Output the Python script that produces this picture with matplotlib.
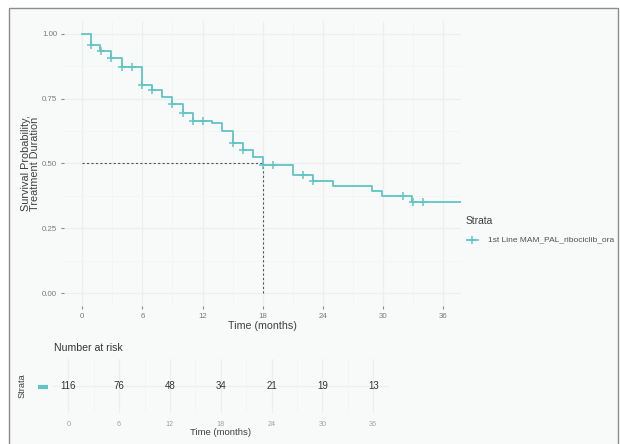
import numpy as np
import matplotlib
matplotlib.use("Agg")
import matplotlib.pyplot as plt
from matplotlib.lines import Line2D
from matplotlib.patches import Rectangle

plt.rcParams['font.family'] = ['Liberation Sans', 'DejaVu Sans']

# Kaplan-Meier estimate (time in months)
event_times = [0.9, 1.8, 2.9, 4.0, 6.0, 7.0, 8.0, 9.0, 10.0, 11.0, 12.9, 13.9,
               15.0, 16.0, 17.0, 18.0, 21.0, 23.0, 25.0, 28.9, 29.9, 32.9]
surv_prob = [0.956, 0.936, 0.906, 0.873, 0.804, 0.782, 0.758, 0.731, 0.694,
             0.665, 0.655, 0.627, 0.580, 0.551, 0.525, 0.493, 0.456, 0.434,
             0.414, 0.393, 0.376, 0.351]
censor_times = [0.9, 1.9, 2.9, 4.0, 5.0, 6.0, 7.0, 9.0, 10.0, 11.0, 12.0,
                15.0, 16.0, 18.0, 19.0, 22.0, 23.0, 32.0, 33.0, 34.0]
last_time = 37.8
median_time = 18.0

risk_times = [0, 6, 12, 18, 24, 30, 36]
n_at_risk = [116, 76, 48, 34, 21, 19, 13]

strata_label = "1st Line MAM_PAL_ribociclib_ora"
teal = "#62c4c4"
grid_major = "#eceff1"
grid_minor = "#f3f4f5"
bg = "#f8f9f9"

W, H = 620, 444
fig = plt.figure(figsize=(W / 100, H / 100), dpi=100)
fig.patch.set_facecolor("white")

# outer frame
fig.add_artist(Rectangle((9 / W, -0.01), (618 - 9) / W, 1 - 8 / H + 0.01,
                         transform=fig.transFigure, facecolor=bg,
                         edgecolor="#8c8c8c", lw=1.0, zorder=-10))


def box(x0, y0, x1, y1):
    return [x0 / W, 1 - y1 / H, (x1 - x0) / W, (y1 - y0) / H]


xlim = (-1.83, last_time)

# ---- survival curve ----
ax = fig.add_axes(box(64, 21, 461, 306))
ax.set_facecolor("none")
ax.set_xlim(*xlim)
ax.set_ylim(-0.05, 1.05)
for s in ax.spines.values():
    s.set_visible(False)

ax.set_xticks(risk_times)
ax.set_xticks(np.arange(3, 37, 6), minor=True)
ax.set_yticks([0, 0.25, 0.5, 0.75, 1.0])
ax.set_yticks([0.125, 0.375, 0.625, 0.875], minor=True)
ax.set_yticklabels(["0.00", "0.25", "0.50", "0.75", "1.00"])
ax.grid(which="major", color=grid_major, lw=0.9)
ax.grid(which="minor", color=grid_minor, lw=0.6)
ax.tick_params(which="major", length=2.5, width=0.8, color="#8a8a8a",
               labelsize=5.7, labelcolor="#7a7a7a", pad=2.5)
ax.tick_params(which="minor", length=0)
ax.set_axisbelow(True)

xs = [0] + event_times + [last_time]
ys = [1.0] + surv_prob + [surv_prob[-1]]
ax.step(xs, ys, where="post", color=teal, lw=1.3, zorder=3)

et = np.array(event_times)
sp = np.array(surv_prob)
idx = np.searchsorted(et, np.array(censor_times), side="right")
cy = np.where(idx > 0, sp[np.maximum(idx - 1, 0)], 1.0)
ax.plot(censor_times, cy, ls="none", marker="+", ms=5.2, mew=1.1,
        color=teal, zorder=4)

# median survival reference lines
ax.plot([0, median_time], [0.5, 0.5], color="#555555", lw=0.8,
        ls=(0, (2.0, 2.0)), zorder=2)
ax.plot([median_time, median_time], [0, 0.5], color="#555555", lw=0.8,
        ls=(0, (2.0, 2.0)), zorder=2)

ax.set_xlabel("Time (months)", fontsize=7.7, color="#404040", labelpad=1)
ax.set_ylabel("Survival Probability,\nTreatment Duration", fontsize=7.8,
              color="#404040", labelpad=1, linespacing=0.95)

# legend
fig.text(466 / W, 1 - 221 / H, "Strata", fontsize=7.4, color="#404040",
         ha="left", va="center")
fig.add_artist(Line2D([466.5 / W, 477.5 / W], [1 - 240 / H, 1 - 240 / H],
                      transform=fig.transFigure, color=teal, lw=1.3))
fig.add_artist(Line2D([472 / W], [1 - 240 / H], transform=fig.transFigure,
                      color=teal, marker="+", ms=5.2, mew=1.1, ls="none"))
fig.text(488 / W, 1 - 240 / H, strata_label, fontsize=6.0, color="#505050",
         ha="left", va="center")

# ---- number at risk table ----
rt = fig.add_axes(box(52.8, 359, 388.5, 413))
rt.set_facecolor("none")
rt.set_xlim(*xlim)
rt.set_ylim(-0.5, 0.5)
for s in rt.spines.values():
    s.set_visible(False)
rt.set_xticks(risk_times)
rt.set_xticks(np.arange(3, 37, 6), minor=True)
rt.set_yticks([0])
rt.set_yticklabels([""])
rt.grid(which="major", color=grid_major, lw=0.9)
rt.grid(which="minor", axis="x", color=grid_minor, lw=0.6)
rt.tick_params(which="both", length=0)
rt.tick_params(axis="x", labelsize=5.2, labelcolor="#a0a0a0", pad=6)
rt.set_axisbelow(True)
for t, n in zip(risk_times, n_at_risk):
    rt.text(t, 0, str(n), ha="center", va="center", fontsize=7.0,
            color="#333333")
rt.set_xlabel("Time (months)", fontsize=6.8, color="#404040", labelpad=0)

# strata key and label on the left
fig.add_artist(Line2D([38 / W, 48 / W], [1 - 387 / H, 1 - 387 / H],
                      transform=fig.transFigure, color=teal, lw=3.0,
                      solid_capstyle="butt"))
fig.text(22 / W, 1 - 386 / H, "Strata", rotation=90, fontsize=6.6,
         color="#404040", ha="center", va="center")
fig.text(54 / W, 1 - 348 / H, "Number at risk", fontsize=7.6,
         color="#333333", ha="left", va="center")

fig.savefig("out.png", dpi=100, facecolor=fig.get_facecolor())
